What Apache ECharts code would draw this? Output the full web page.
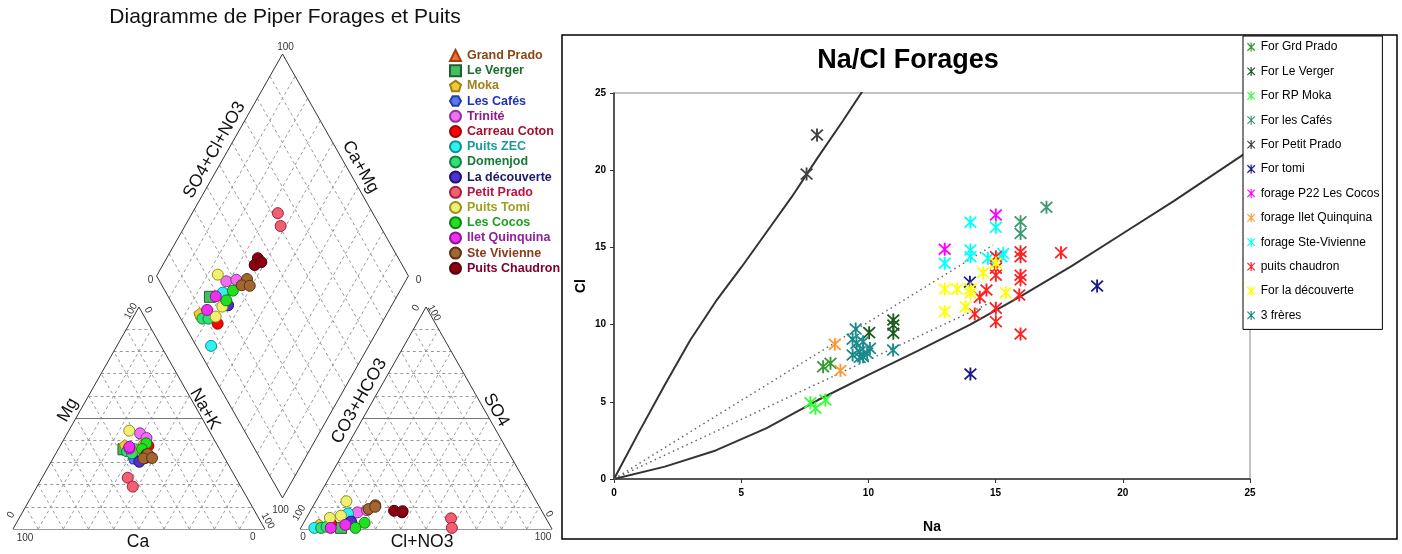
<!DOCTYPE html>
<html><head><meta charset="utf-8">
<script src="https://cdn.jsdelivr.net/npm/echarts@6/dist/echarts.min.js"></script>
<style>html,body{margin:0;padding:0;background:#fff}#c{width:1402px;height:554px}</style>
</head><body><div id="c"></div>
<script>
// ================= Na/Cl scatter data: [Na, Cl] =================
const forGrdPrado = [[8.22,7.27],[8.51,7.49]];
const forLeVerger = [[10.98,10.3],[10.98,9.97],[10.98,9.44],[10.03,9.48]];
const forRPMoka = [[7.72,4.94],[7.92,4.58],[8.31,5.12]];
const forLesCafes = [[15.98,16.66],[15.98,15.9],[17.0,17.6]];
const forPetitPrado = [[7.98,22.28],[7.57,19.75]];
const forTomi = [[18.99,12.5],[14.01,6.8],[13.99,12.75]];
const forageP22Cocos = [[15.01,17.1],[13.0,14.88]];
const forageIletQuinquina = [[8.68,8.72],[8.9,7.02]];
const forageSteVivienne = [[14.01,16.63],[15.01,16.3],[13.0,13.97],[14.01,14.83],[14.01,14.4],[15.3,14.6],[14.7,14.3],[15.23,14.4]];
const puitsChaudronNaCl = [[15.98,14.72],[15.98,14.4],[15.01,14.4],[15.01,13.65],[15.01,13.2],[15.98,13.2],[15.98,12.9],[14.64,12.24],[14.38,11.77],[15.93,11.92],[15.01,11.06],[14.18,10.69],[15.01,10.19],[15.98,9.39],[17.57,14.66]];
const forLaDecouverte = [[13.0,12.3],[13.49,12.3],[14.01,12.3],[14.01,12.03],[14.51,13.36],[15.01,13.97],[15.4,12.07],[13.0,10.84],[13.82,11.16]];
const troisFreres = [[9.5,9.71],[9.38,9.05],[9.53,8.79],[9.79,8.89],[9.38,8.03],[9.66,8.24],[9.79,7.92],[9.95,8.14],[10.06,8.46],[10.97,8.35],[9.66,7.88]];

const naClNames = ['For Grd Prado','For Le Verger','For RP Moka','For les Cafés','For Petit Prado','For tomi','forage P22 Les Cocos','forage Ilet Quinquina','forage Ste-Vivienne','puits chaudron','For la découverte','3 frères'];
const naClColors = ['#339933','#1E5A1E','#33FF33','#3D9970','#404040','#1A1A8C','#FF00FF','#FF9933','#00FFFF','#FF2020','#FFFF00','#1A8A8A'];
const naClData = [forGrdPrado,forLeVerger,forRPMoka,forLesCafes,forPetitPrado,forTomi,forageP22Cocos,forageIletQuinquina,forageSteVivienne,puitsChaudronNaCl,forLaDecouverte,troisFreres];

// reference lines (Na values / Cl values)
const steepNa = [0,1,2,3,4,5,6,7,8,9,10];
const steepCl = [0,3.1,6.1,9.0,11.5,13.7,16.0,18.3,20.8,23.2,25.7];
const curveNa = [0,2,4,6,8,10,12,14,16,18,20,22,25];
const curveCl = [0,0.8,1.85,3.3,5.1,6.75,8.35,10.0,11.85,13.8,15.9,18.0,21.3];
const dotUpNa = [0,14.9], dotUpCl = [0,15.15];
const dotLowNa = [0,14.9], dotLowCl = [0,11.5];
const naTicks = [0,5,10,15,20,25];

// ================= Piper data: [Mg%, Na+K%, SO4%, Cl+NO3%] =================
const grandPrado = [];
const leVerger = [[35.9,25.9,0.5,16]];
const moka = [[37.8,25.5,2,6.5]];
const lesCafes = [[31.8,32,3,19]];
const trinite = [[43.1,28.9,7.5,19],[41,32.5,8.5,22.3]];
const carreauCoton = [[37.5,35,2.5,11]];
const puitsZEC = [[33,37.4,0.5,5.4],[36,30,7,15.5]];
const domenjod = [[35,27.8,0.5,8.1],[34.1,30.2,1,10]];
const laDecouverte = [[30.3,35,3.3,18.5]];
const petitPrado = [[23.1,34,4.8,57.5],[19.1,38,0.5,60]];
const puitsTomi = [[44.3,24,12.5,12.1],[36,32.6,5,9.3],[38,33,6,13.2]];
const lesCocos = [[38.6,33.6,2.8,24.2],[36,33.2,0.5,21.7]];
const iletQuinquina = [[36.3,28.1,1.9,17],[37,27.7,0.5,11.9]];
const steVivienne = [[33.8,36.6,10.7,24.5],[31.8,35.9,9,22.7],[32,39.2,10,24.8]];
const puitsChaudron = [[33.5,36.2,7.5,36.7],[32,36.5,8.2,33.2],[32.3,38.5,8,36.7]];

const piperNames = ['Grand Prado','Le Verger','Moka','Les Cafés','Trinité','Carreau Coton','Puits ZEC','Domenjod','La découverte','Petit Prado','Puits Tomi','Les Cocos','Ilet Quinquina','Ste Vivienne','Puits Chaudron'];
const piperData = [grandPrado,leVerger,moka,lesCafes,trinite,carreauCoton,puitsZEC,domenjod,laDecouverte,petitPrado,puitsTomi,lesCocos,iletQuinquina,steVivienne,puitsChaudron];
const piperFill = ['#F07030','#40C060','#F0C830','#5A78F0','#F070F0','#FF0000','#30F0F0','#30E070','#5030D0','#F06070','#F0F070','#20E020','#F030F0','#A06830','#8B0010'];
const piperBorder = ['#A04010','#206030','#A08010','#2040A0','#9030A0','#A00000','#109090','#108040','#201070','#A02040','#909020','#108010','#901090','#603010','#500010'];
const piperText = ['#8B4513','#1A6B2A','#A08020','#2030C0','#8B1A8B','#A01030','#1A9A9A','#1A7A3A','#1A1A6A','#C01040','#A0A020','#20A020','#9020A0','#8B3A1A','#800030'];
const PENT = 'path://M0,-10 L9.5,-3.1 L5.9,8.1 L-5.9,8.1 L-9.5,-3.1 Z';
const HEX = 'path://M-5,-8.66 L5,-8.66 L10,0 L5,8.66 L-5,8.66 L-10,0 Z';
const piperSymbols = ['triangle','rect',PENT,HEX,'circle','circle','circle','circle','circle','circle','circle','circle','circle','circle','circle'];
// drawing order (Puits Chaudron drawn before Ste Vivienne, as in the reference)
const piperDrawOrder = [0,1,2,3,4,5,6,7,8,9,10,11,12,14,13];

// ================= Piper geometry =================
const H = Math.sqrt(3)/2, GAP = 14, OFF = 100 + GAP;
const BX = 100 + GAP/2, BY = GAP/2*Math.sqrt(3);
function cat(mg, nak){ return [nak + mg/2, mg*H]; }
function an(so4, cl){ return [OFF + cl + so4/2, so4*H]; }
function dia(camg, sc){ return [BX - camg/2 + sc/2, BY + H*(camg+sc)]; }

const FONT = '"Liberation Sans", Arial, Helvetica, sans-serif';
const STAR = 'path://M -0.8 -6 L 0.8 -6 L 0.8 6 L -0.8 6 Z M -5.55 -4.45 L -4.45 -5.55 L 5.55 4.45 L 4.45 5.55 Z M 4.45 -5.55 L 5.55 -4.45 L -4.45 5.55 L -5.55 4.45 Z';

// frame & grid segments for the Piper diagram
const frameSegs = [], gridSegs = [], midSegs = [];
function seg(arr, a, b){ arr.push({coords:[a,b]}); }
seg(frameSegs, cat(0,0), cat(0,100)); seg(frameSegs, cat(0,100), cat(100,0)); seg(frameSegs, cat(100,0), cat(0,0));
seg(frameSegs, an(0,0), an(0,100)); seg(frameSegs, an(0,100), an(100,0)); seg(frameSegs, an(100,0), an(0,0));
seg(frameSegs, dia(0,0), dia(100,0)); seg(frameSegs, dia(100,0), dia(100,100)); seg(frameSegs, dia(100,100), dia(0,100)); seg(frameSegs, dia(0,100), dia(0,0));
for (let k = 10; k < 100; k += 10) {
  const tgt = (k === 50) ? midSegs : gridSegs;
  seg(tgt, cat(k,0), cat(k,100-k));
  seg(gridSegs, cat(0,k), cat(100-k,k));
  seg(gridSegs, cat(0,100-k), cat(100-k,0));
  seg(tgt, an(k,0), an(k,100-k));
  seg(gridSegs, an(0,k), an(100-k,k));
  seg(gridSegs, an(0,100-k), an(100-k,0));
  seg(gridSegs, dia(k,0), dia(k,100));
  seg(gridSegs, dia(0,k), dia(100,k));
}

const series = [];
series.push({type:'lines', coordinateSystem:'cartesian2d', xAxisIndex:1, yAxisIndex:1, silent:true, z:1,
  lineStyle:{color:'#999', width:1, type:[3,3], opacity:1}, data:gridSegs});
series.push({type:'lines', coordinateSystem:'cartesian2d', xAxisIndex:1, yAxisIndex:1, silent:true, z:1,
  lineStyle:{color:'#777', width:1, type:'solid', opacity:1}, data:midSegs});
series.push({type:'lines', coordinateSystem:'cartesian2d', xAxisIndex:1, yAxisIndex:1, silent:true, z:1,
  lineStyle:{color:'#333', width:1, type:'solid', opacity:1}, data:frameSegs});

piperDrawOrder.forEach(i => {
  const pts = [];
  piperData[i].forEach(s => {
    const mg = s[0], nak = s[1], so4 = s[2], cl = s[3];
    pts.push(cat(mg, nak));
    pts.push(an(so4, cl));
    pts.push(dia(100 - nak, so4 + cl));
  });
  series.push({name:piperNames[i], type:'scatter', xAxisIndex:1, yAxisIndex:1, symbol:piperSymbols[i], symbolSize:11, z:3,
    itemStyle:{color:piperFill[i], borderColor:piperBorder[i], borderWidth:1, opacity:1}, data:pts});
});

// Na/Cl reference lines
function pairs(a, b){ return a.map((v, i) => [v, b[i]]); }
const lineBase = {type:'line', xAxisIndex:0, yAxisIndex:0, symbol:'none', silent:true, z:1, clip:true};
series.push(Object.assign({}, lineBase, {lineStyle:{color:'#333', width:2}, data:pairs(steepNa, steepCl)}));
series.push(Object.assign({}, lineBase, {lineStyle:{color:'#333', width:2}, data:pairs(curveNa, curveCl)}));
series.push(Object.assign({}, lineBase, {lineStyle:{color:'#666', width:1.5, type:[1.5,3.5]}, data:pairs(dotUpNa, dotUpCl)}));
series.push(Object.assign({}, lineBase, {lineStyle:{color:'#666', width:1.5, type:[1.5,3.5]}, data:pairs(dotLowNa, dotLowCl)}));

naClNames.forEach((nm, i) => {
  series.push({name:nm, type:'scatter', xAxisIndex:0, yAxisIndex:0, symbol:STAR, symbolSize:13, z:3,
    itemStyle:{color:naClColors[i], opacity:1}, data:naClData[i]});
});

const axisLbl = {color:'#000', fontFamily:FONT, fontWeight:'bold', fontSize:10};
const option = {
  animation:false,
  backgroundColor:'#fff',
  title:[
    {text:'Diagramme de Piper Forages et Puits', left:285, top:7, textAlign:'center', padding:0,
     textStyle:{fontFamily:FONT, fontSize:21, fontWeight:'normal', color:'#111'}},
    {text:'Na/Cl Forages', left:908, top:47, textAlign:'center', padding:0,
     textStyle:{fontFamily:FONT, fontSize:27, fontWeight:'bold', color:'#000'}}
  ],
  grid:[
    {left:614, top:93, width:636, height:386, show:true, borderColor:'#888', borderWidth:1, backgroundColor:'transparent', containLabel:false, outerBoundsMode:'none'},
    {left:13, top:54, width:539, height:475, show:false, containLabel:false, outerBoundsMode:'none'}
  ],
  xAxis:[
    {gridIndex:0, type:'value', min:0, max:25, interval:5,
     name:'Na', nameLocation:'middle', nameGap:41, nameTextStyle:{fontFamily:FONT, fontWeight:'bold', fontSize:14, color:'#000'},
     axisLine:{show:true, onZero:false, lineStyle:{color:'#333', width:1.5}},
     axisTick:{show:true, inside:false, length:4, lineStyle:{color:'#333'}},
     axisLabel:Object.assign({margin:9}, axisLbl), splitLine:{show:false}},
    {gridIndex:1, type:'value', min:0, max:214, show:false, splitLine:{show:false}}
  ],
  yAxis:[
    {gridIndex:0, type:'value', min:0, max:25, interval:5,
     name:'Cl', nameLocation:'middle', nameGap:26, nameRotate:90, nameTextStyle:{fontFamily:FONT, fontWeight:'bold', fontSize:14, color:'#000'},
     axisLine:{show:true, onZero:false, lineStyle:{color:'#333', width:1.5}},
     axisTick:{show:true, inside:false, length:4, lineStyle:{color:'#333'}},
     axisLabel:Object.assign({margin:8}, axisLbl), splitLine:{show:false}},
    {gridIndex:1, type:'value', min:0, max:185.33, show:false, splitLine:{show:false}}
  ],
  legend:[
    {orient:'vertical', left:449, top:49, padding:0, itemWidth:11, itemHeight:11, itemGap:2.2,
     textStyle:{fontFamily:FONT, fontWeight:'bold', fontSize:12.5, lineHeight:13, padding:[0,0,0,1]},
     data:piperNames.map((n,i)=>({name:n, icon:piperSymbols[i], textStyle:{color:piperText[i]}})),
     selectedMode:false},
    {orient:'vertical', left:1243, top:36, padding:[5,3,8,4], itemWidth:9, itemHeight:9, itemGap:12.4,
     backgroundColor:'#fff', borderColor:'#000', borderWidth:1, z:5,
     textStyle:{fontFamily:FONT, fontSize:12, color:'#000', lineHeight:12},
     icon:STAR, data:naClNames, selectedMode:false}
  ],
  series:series
};

const chart = echarts.init(document.getElementById('c'), null, {renderer:'canvas'});
chart.setOption(option);

// --- text annotations for the Piper diagram (positioned from the Piper coordinate system)
function px(p){ return chart.convertToPixel({xAxisIndex:1, yAxisIndex:1}, p); }
const CL = px(cat(0,0)), CR = px(cat(0,100)), CA = px(cat(100,0));
const AL = px(an(0,0)), AR = px(an(0,100)), AA = px(an(100,0));
const DB = px(dia(0,0)), DL = px(dia(100,0)), DT = px(dia(100,100)), DR = px(dia(0,100));
const ANG = Math.atan2(CL[1] - CA[1], CA[0] - CL[0]);
const ticks = [
  [CL,12,9,'100',0],[CL,-2,-14,'0',1],[CR,-12,8,'0',0],[CR,3,-8,'100',-1],[CA,-8,4,'100',1],[CA,9,3,'0',-1],
  [AL,3,8,'0',0],[AL,-1,-16,'100',1],[AR,-9,8,'100',0],[AR,-3,-15,'0',-1],[AA,-10,1,'0',1],[AA,8,6,'100',-1],
  [DT,3,-7,'100',0],[DL,-6,4,'0',0],[DR,10,4,'0',0],[DB,-2,12,'100',0]
];
const gfx = [{type:'rect', shape:{x:562, y:35, width:835, height:504}, style:{fill:'none', stroke:'#000', lineWidth:1.5}, z:0, silent:true}];
ticks.forEach(t => {
  gfx.push({type:'text', x:t[0][0]+t[1], y:t[0][1]+t[2], rotation:t[4]*ANG, silent:true, z:10,
    style:{text:t[3], fill:'#333', font:'10px ' + FONT, align:'center', verticalAlign:'middle'}});
});
// axis titles: offsets from the edge midpoints
const titles = [
  ['SO4+Cl+NO3', (DL[0]+DT[0])/2 - 5, (DL[1]+DT[1])/2 - 15, 1],
  ['Ca+Mg', (DR[0]+DT[0])/2 + 15, (DR[1]+DT[1])/2 + 2, -1],
  ['Mg', (CL[0]+CA[0])/2 - 8, (CL[1]+CA[1])/2 - 8, 1],
  ['Na+K', (CR[0]+CA[0])/2 + 3, (CR[1]+CA[1])/2 - 9, -1],
  ['CO3+HCO3', (AL[0]+AA[0])/2 - 4, (AL[1]+AA[1])/2 - 17, 1],
  ['SO4', (AR[0]+AA[0])/2 + 7, (AR[1]+AA[1])/2 - 8, -1],
  ['Ca', (CL[0]+CR[0])/2 - 1, CL[1] + 13, 0],
  ['Cl+NO3', (AL[0]+AR[0])/2 - 4, AL[1] + 13, 0]
];
titles.forEach(t => {
  gfx.push({type:'text', x:t[1], y:t[2], rotation:t[3]*ANG, silent:true, z:10,
    style:{text:t[0], fill:'#111', font:'17.5px ' + FONT, align:'center', verticalAlign:'middle'}});
});
chart.setOption({graphic:gfx});
</script>
</body></html>
